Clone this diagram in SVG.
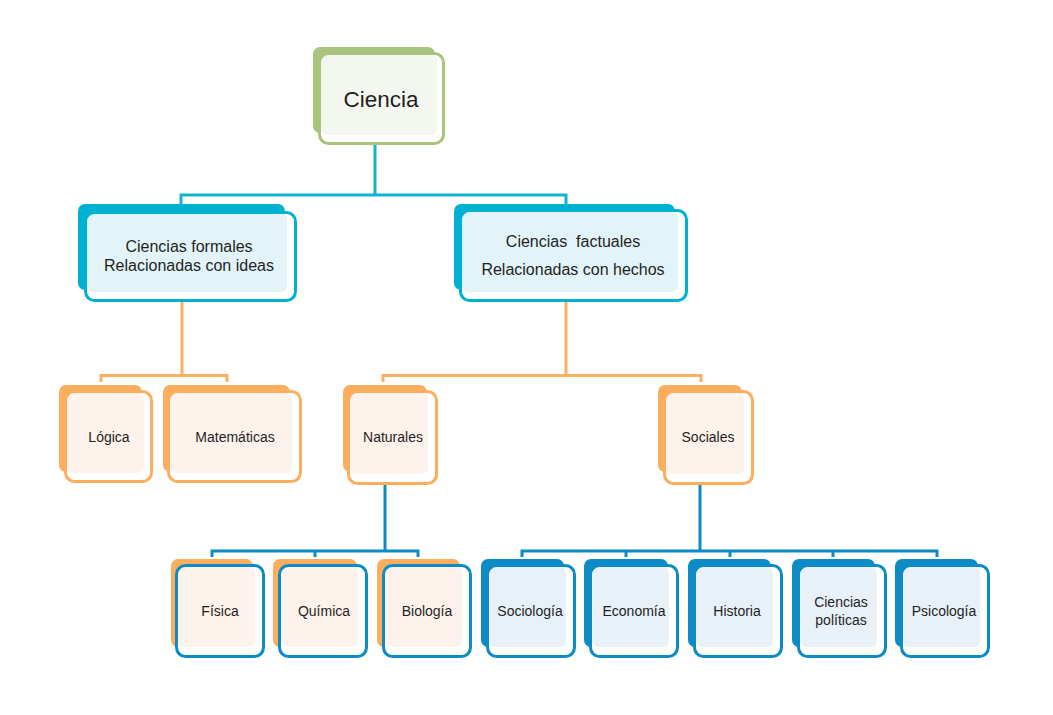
<svg xmlns="http://www.w3.org/2000/svg" width="1053" height="715" viewBox="0 0 1053 715">
<style>
text{font-family:"Liberation Sans",Arial,sans-serif;fill:#1f1f1f;text-anchor:middle}
.t1{font-size:22.5px}
.t2{font-size:16px;white-space:pre}
.t3{font-size:14px}
.fr{fill:#ffffff}
.st{fill:none;stroke-width:3}
.c{fill:none;stroke-width:3}
.g .bk{fill:#a9c47f}.g .st{stroke:#a9c47f}.g .in{fill:#f4f7ef}
.tl .bk{fill:#00b2d2}.tl .st{stroke:#00b2d2}.tl .in{fill:#e2f4f8}
.o .bk{fill:#fcae5e}.o .st{stroke:#fcae5e}.o .in{fill:#fdf3ec}
.ob .bk{fill:#fcae5e}.ob .st{stroke:#0d8bc4}.ob .in{fill:#fdf3ec}
.b .bk{fill:#0d8bc4}.b .st{stroke:#0d8bc4}.b .in{fill:#e8f0f8}
</style>
<g id="connectors">
<path class="c" stroke="#12b4d0" d="M375,145V195M181,205V195H566V205"/>
<path class="c" stroke="#fcb060" d="M182,302V375.5M101,382V375.5H227V382M566,302V375.5M383,382V375.5H701V382"/>
<path class="c" stroke="#0d8bc4" d="M385,485V551M212,557V551H418V557M315,551V557M700,485V551M522,557V551H937V557M626,551V557M730,551V557M833,551V557"/>
</g>
<g id="ciencia" class="g">
<rect class="bk" x="313" y="47" width="122" height="86" rx="7"/>
<rect class="fr" x="319.5" y="53.5" width="124" height="90" rx="9"/>
<rect class="in" x="321" y="55" width="116" height="80" rx="6"/>
<rect class="st" x="319.5" y="53.5" width="124" height="90" rx="9"/>
<text class="t1" x="381" y="107">Ciencia</text>
</g>
<g id="formales" class="tl">
<rect class="bk" x="78" y="204" width="207" height="86" rx="7"/>
<rect class="fr" x="85.5" y="212.5" width="210" height="88" rx="9"/>
<rect class="in" x="87" y="213" width="200" height="79" rx="6"/>
<rect class="st" x="85.5" y="212.5" width="210" height="88" rx="9"/>
<text class="t2" x="189" y="252">Ciencias formales</text>
<text class="t2" x="189" y="271">Relacionadas con ideas</text>
</g>
<g id="factuales" class="tl">
<rect class="bk" x="454" y="204" width="221" height="86" rx="7"/>
<rect class="fr" x="460.5" y="210.5" width="226" height="90" rx="9"/>
<rect class="in" x="462" y="212" width="216" height="80" rx="6"/>
<rect class="st" x="460.5" y="210.5" width="226" height="90" rx="9"/>
<text class="t2" x="573" y="247">Ciencias  factuales</text>
<text class="t2" x="573" y="275">Relacionadas con hechos</text>
</g>
<g id="logica" class="o">
<rect class="bk" x="59" y="385" width="83" height="87" rx="7"/>
<rect class="fr" x="65.5" y="391.5" width="86" height="90" rx="9"/>
<rect class="in" x="67" y="393" width="77" height="80" rx="6"/>
<rect class="st" x="65.5" y="391.5" width="86" height="90" rx="9"/>
<text class="t3" x="109" y="442">Lógica</text>
</g>
<g id="matematicas" class="o">
<rect class="bk" x="163" y="385" width="127" height="87" rx="7"/>
<rect class="fr" x="168.5" y="391.5" width="132" height="90" rx="9"/>
<rect class="in" x="170" y="393" width="122" height="80" rx="6"/>
<rect class="st" x="168.5" y="391.5" width="132" height="90" rx="9"/>
<text class="t3" x="235" y="442">Matemáticas</text>
</g>
<g id="naturales" class="o">
<rect class="bk" x="343" y="385" width="84" height="87" rx="7"/>
<rect class="fr" x="348.5" y="391.5" width="88" height="92" rx="9"/>
<rect class="in" x="350" y="393" width="78" height="81" rx="6"/>
<rect class="st" x="348.5" y="391.5" width="88" height="92" rx="9"/>
<text class="t3" x="393" y="442">Naturales</text>
</g>
<g id="sociales" class="o">
<rect class="bk" x="658" y="385" width="84" height="87" rx="7"/>
<rect class="fr" x="664.5" y="391.5" width="88" height="92" rx="9"/>
<rect class="in" x="666" y="393" width="78" height="81" rx="6"/>
<rect class="st" x="664.5" y="391.5" width="88" height="92" rx="9"/>
<text class="t3" x="708" y="442">Sociales</text>
</g>
<g id="fisica" class="ob">
<rect class="bk" x="171" y="559" width="82" height="88" rx="7"/>
<rect class="fr" x="176.5" y="565.5" width="87" height="91" rx="9"/>
<rect class="in" x="178" y="567" width="77" height="80" rx="6"/>
<rect class="st" x="176.5" y="565.5" width="87" height="91" rx="9"/>
<text class="t3" x="220" y="616">Física</text>
</g>
<g id="quimica" class="ob">
<rect class="bk" x="273" y="559" width="84" height="88" rx="7"/>
<rect class="fr" x="279.5" y="565.5" width="87" height="91" rx="9"/>
<rect class="in" x="281" y="567" width="77" height="80" rx="6"/>
<rect class="st" x="279.5" y="565.5" width="87" height="91" rx="9"/>
<text class="t3" x="324" y="616">Química</text>
</g>
<g id="biologia" class="ob">
<rect class="bk" x="377" y="559" width="83" height="88" rx="7"/>
<rect class="fr" x="383.5" y="565.5" width="87" height="91" rx="9"/>
<rect class="in" x="385" y="567" width="77" height="80" rx="6"/>
<rect class="st" x="383.5" y="565.5" width="87" height="91" rx="9"/>
<text class="t3" x="427" y="616">Biología</text>
</g>
<g id="sociologia" class="b">
<rect class="bk" x="481" y="559" width="83" height="88" rx="7"/>
<rect class="fr" x="487.5" y="565.5" width="87" height="91" rx="9"/>
<rect class="in" x="489" y="567" width="77" height="80" rx="6"/>
<rect class="st" x="487.5" y="565.5" width="87" height="91" rx="9"/>
<text class="t3" x="530" y="616">Sociología</text>
</g>
<g id="economia" class="b">
<rect class="bk" x="584" y="559" width="84" height="88" rx="7"/>
<rect class="fr" x="590.5" y="565.5" width="87" height="91" rx="9"/>
<rect class="in" x="592" y="567" width="77" height="80" rx="6"/>
<rect class="st" x="590.5" y="565.5" width="87" height="91" rx="9"/>
<text class="t3" x="634" y="616">Economía</text>
</g>
<g id="historia" class="b">
<rect class="bk" x="688" y="559" width="83" height="88" rx="7"/>
<rect class="fr" x="694.5" y="565.5" width="87" height="91" rx="9"/>
<rect class="in" x="696" y="567" width="77" height="80" rx="6"/>
<rect class="st" x="694.5" y="565.5" width="87" height="91" rx="9"/>
<text class="t3" x="737" y="616">Historia</text>
</g>
<g id="politicas" class="b">
<rect class="bk" x="792" y="559" width="83" height="88" rx="7"/>
<rect class="fr" x="798.5" y="565.5" width="87" height="91" rx="9"/>
<rect class="in" x="800" y="567" width="77" height="80" rx="6"/>
<rect class="st" x="798.5" y="565.5" width="87" height="91" rx="9"/>
<text class="t3" x="841" y="607">Ciencias</text>
<text class="t3" x="841" y="625">políticas</text>
</g>
<g id="psicologia" class="b">
<rect class="bk" x="895" y="559" width="83" height="88" rx="7"/>
<rect class="fr" x="901.5" y="565.5" width="87" height="91" rx="9"/>
<rect class="in" x="903" y="567" width="77" height="80" rx="6"/>
<rect class="st" x="901.5" y="565.5" width="87" height="91" rx="9"/>
<text class="t3" x="944" y="616">Psicología</text>
</g>
</svg>
